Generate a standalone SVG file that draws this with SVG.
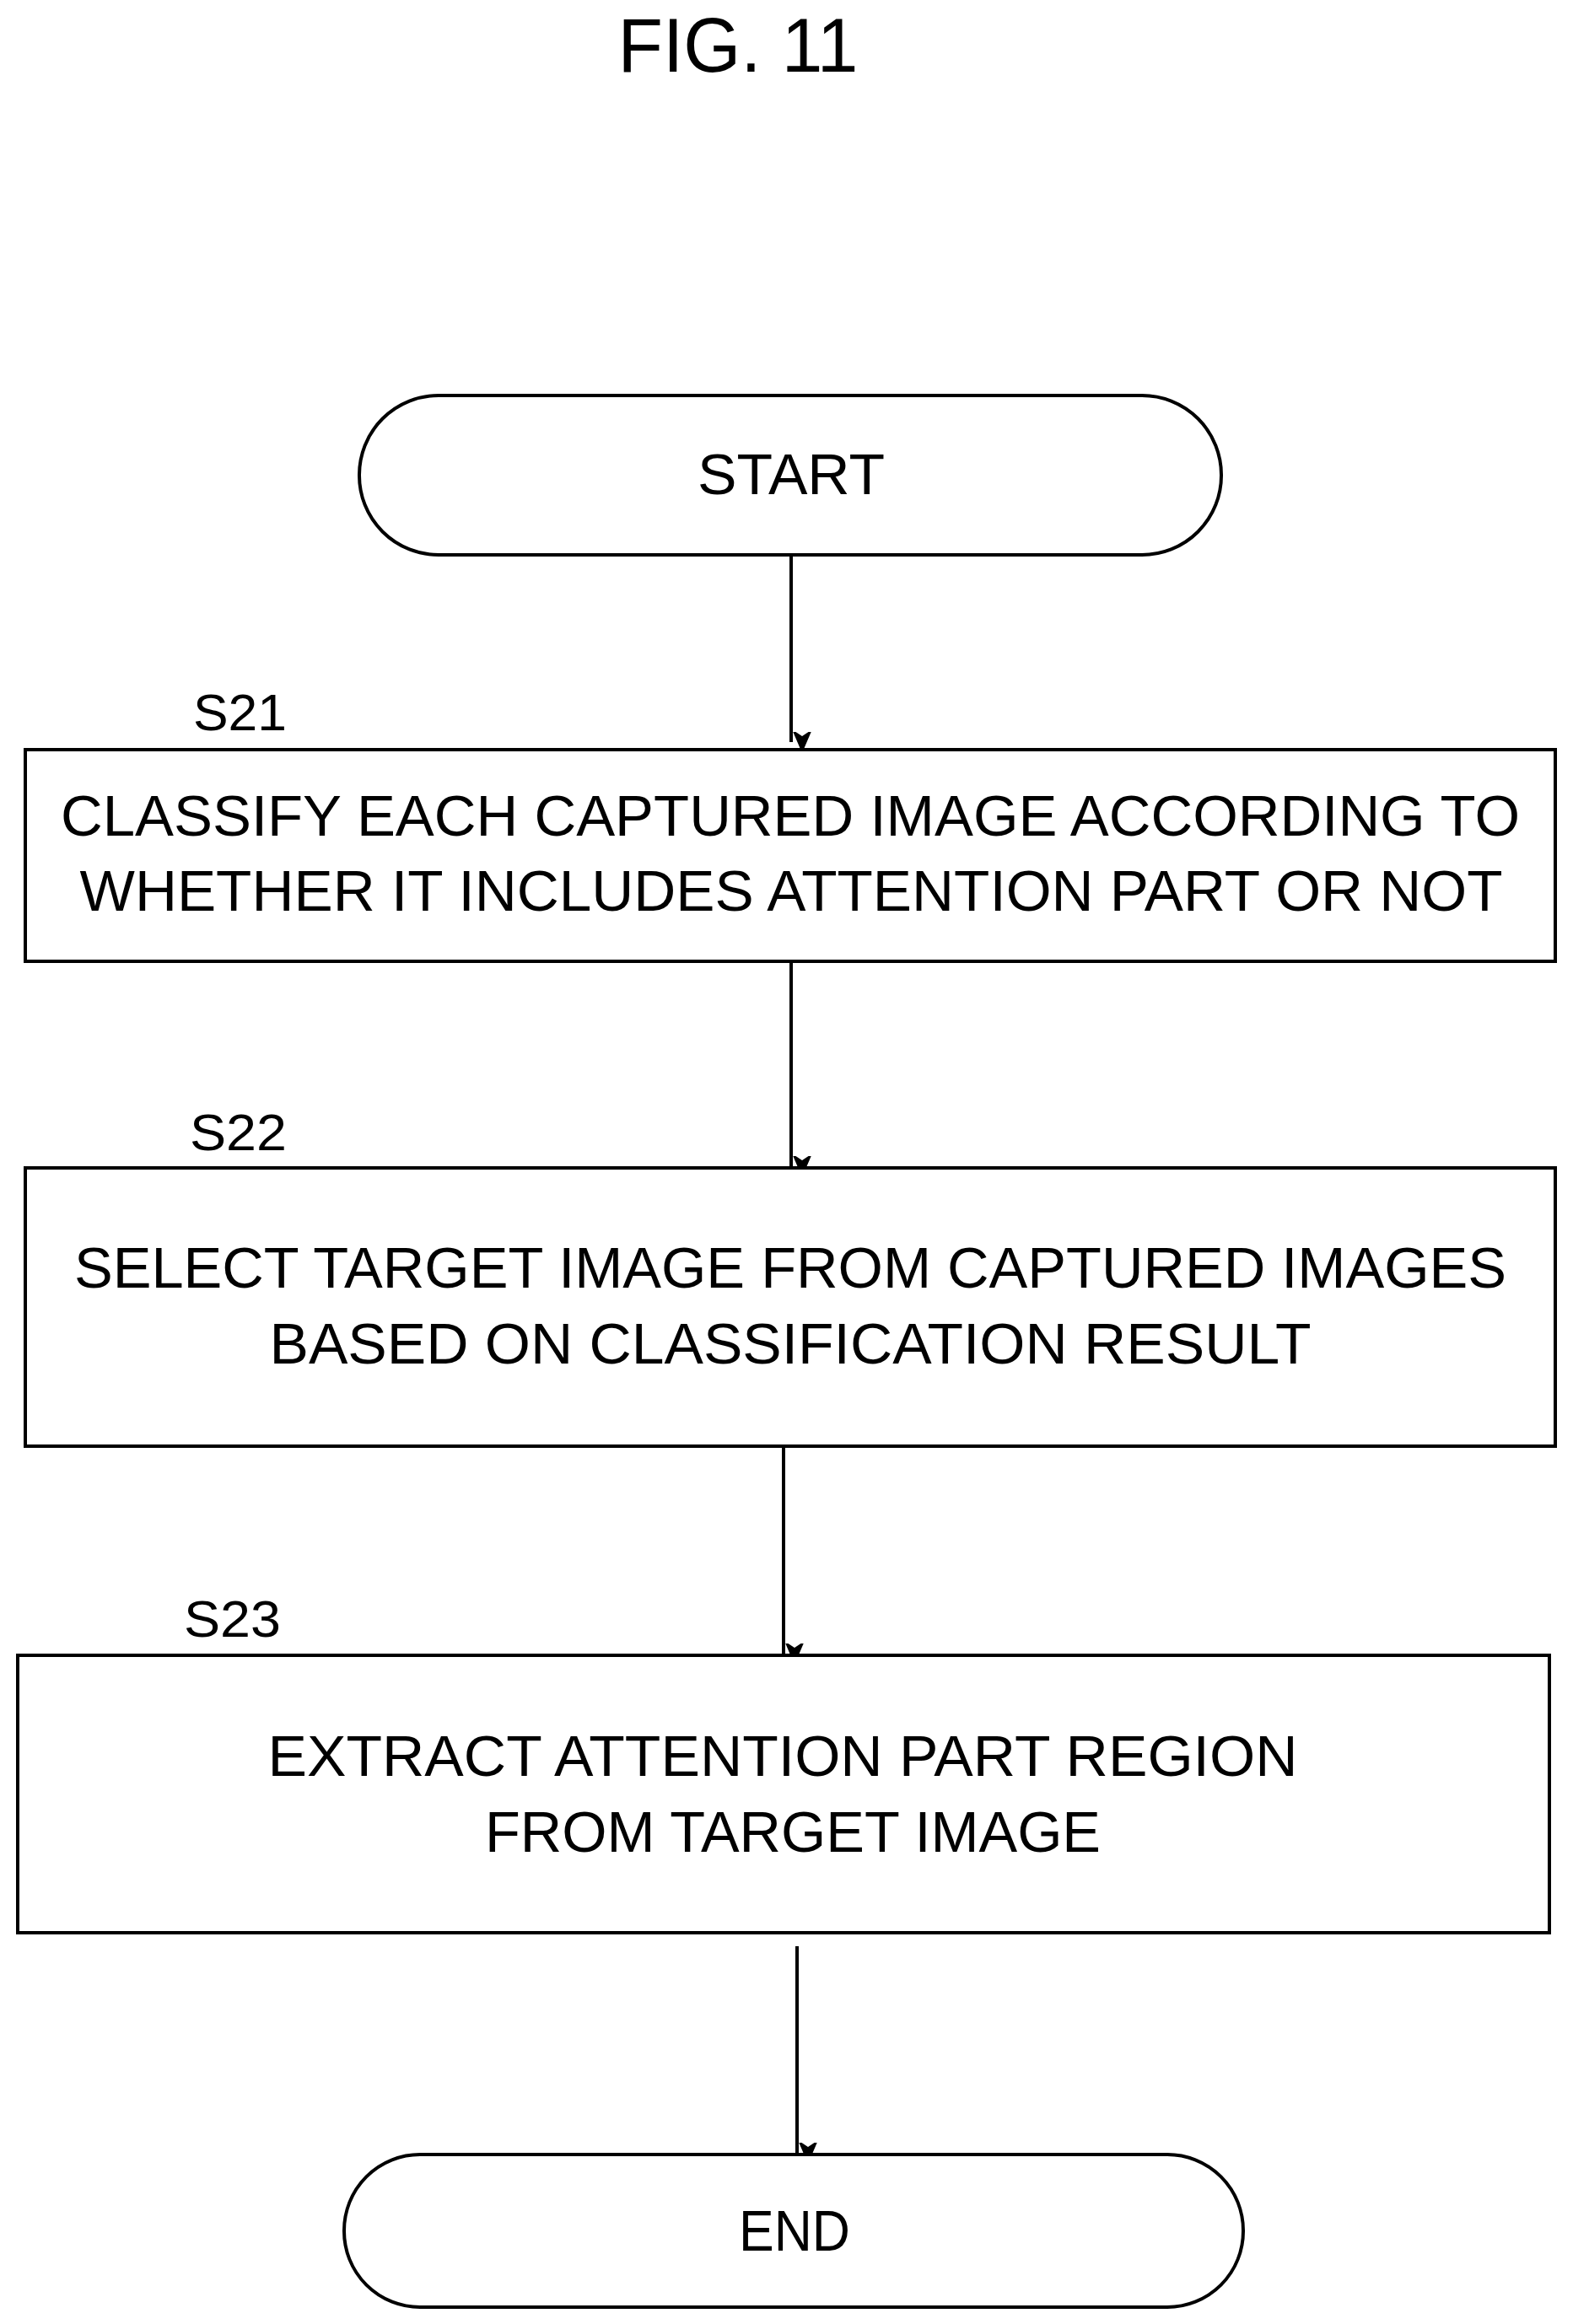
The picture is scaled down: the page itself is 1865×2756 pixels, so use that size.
<svg xmlns="http://www.w3.org/2000/svg" width="1865" height="2756" viewBox="0 0 1865 2756">
<style>
.s{fill:#fff;stroke:#000;stroke-width:4}
.t{font-family:"Liberation Sans",Arial,sans-serif;font-size:68px;fill:#000;text-anchor:middle}
.l{font-family:"Liberation Sans",Arial,sans-serif;font-size:62px;fill:#000}
.c{stroke:#000;stroke-width:4;fill:none;marker-end:url(#a)}
</style>
<defs><marker id="a" markerUnits="userSpaceOnUse" markerWidth="24" markerHeight="30" refX="12" refY="28" orient="auto-start-reverse" viewBox="0 0 24 30"><path d="M0,0 L12,28 L24,0 L12,8 Z" fill="#000" transform="rotate(-90 12 15) translate(0 0)"/></marker></defs>
<rect width="1865" height="2756" fill="#fff"/>
<text x="875" y="85" font-family="Liberation Sans,Arial,sans-serif" font-size="90" text-anchor="middle" textLength="285" lengthAdjust="spacingAndGlyphs">FIG. 11</text>
<g id="connectors">
<line class="c" x1="938" y1="658" x2="938" y2="880"/>
<line class="c" x1="938" y1="1140" x2="938" y2="1383"/>
<line class="c" x1="929" y1="1715" x2="929" y2="1961"/>
<line class="c" x1="945" y1="2308" x2="945" y2="2553"/>
</g>
<g id="start"><rect class="s" x="426" y="469" width="1022" height="189" rx="94"/><text class="t" x="938" y="586" textLength="222" lengthAdjust="spacingAndGlyphs">START</text></g>
<g id="s21"><text class="l" x="229" y="866" textLength="111" lengthAdjust="spacingAndGlyphs">S21</text>
<rect class="s" x="30" y="889" width="1814" height="251"/>
<text class="t" x="937" y="991" textLength="1730" lengthAdjust="spacingAndGlyphs">CLASSIFY EACH CAPTURED IMAGE ACCORDING TO</text>
<text class="t" x="938" y="1080" textLength="1687" lengthAdjust="spacingAndGlyphs">WHETHER IT INCLUDES ATTENTION PART OR NOT</text></g>
<g id="s22"><text class="l" x="225" y="1364" textLength="115" lengthAdjust="spacingAndGlyphs">S22</text>
<rect class="s" x="30" y="1385" width="1814" height="330"/>
<text class="t" x="937" y="1527" textLength="1698" lengthAdjust="spacingAndGlyphs">SELECT TARGET IMAGE FROM CAPTURED IMAGES</text>
<text class="t" x="937" y="1617" textLength="1235" lengthAdjust="spacingAndGlyphs">BASED ON CLASSIFICATION RESULT</text></g>
<g id="s23"><text class="l" x="218" y="1941" textLength="115" lengthAdjust="spacingAndGlyphs">S23</text>
<rect class="s" x="21" y="1963" width="1816" height="329"/>
<text class="t" x="928" y="2106" textLength="1221" lengthAdjust="spacingAndGlyphs">EXTRACT ATTENTION PART REGION</text>
<text class="t" x="940" y="2196" textLength="730" lengthAdjust="spacingAndGlyphs">FROM TARGET IMAGE</text></g>
<g id="end"><rect class="s" x="408" y="2555" width="1066" height="181" rx="90"/><text class="t" x="942" y="2669" textLength="132" lengthAdjust="spacingAndGlyphs">END</text></g>
</svg>
